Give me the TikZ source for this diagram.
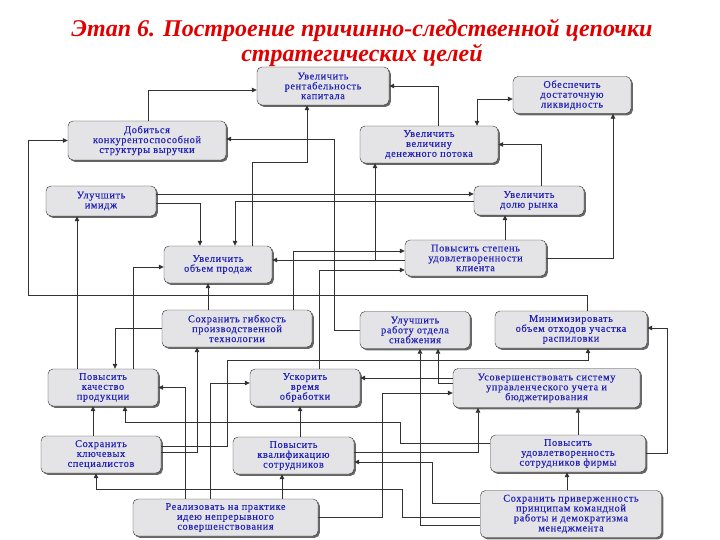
\documentclass[tikz,border=0pt]{standalone}
\usepackage{fontspec}
\setmainfont{Liberation Serif}
\usepackage{xcolor}
\definecolor{etap_red}{RGB}{225, 0, 0}
\definecolor{etap_blue}{RGB}{35, 35, 185}
\definecolor{etap_fill}{RGB}{228, 228, 230}
\definecolor{etap_line}{RGB}{50, 50, 50}
\usepackage{tikz}
\usetikzlibrary{arrows.meta, shadows}

\begin{document}
\begin{tikzpicture}[x=1pt, y=-1pt, >={Triangle[length=5pt,width=4.5pt]},
            box/.style={draw=etap_line, fill=etap_fill, rounded corners=5pt, align=center,
                        text=etap_blue, inner sep=1pt,
                        font=\fontsize{10.3}{9.9}\selectfont\addfontfeatures{LetterSpace=6,FakeBold=0.4},
                        drop shadow={shadow xshift=1.8pt, shadow yshift=-1.8pt,
                                     fill=black, opacity=0.6}},
            link/.style={->, draw=etap_line, line width=0.8pt}]
            \fill[white] (0,0) rectangle (720,540);
            \useasboundingbox (0,0) rectangle (720,540);
            \node[font=\fontsize{24}{25}\selectfont\bfseries\itshape, text=etap_red, align=center]
              (title) at (362,43) {Этап 6. Построение причинно-следственной цепочки\\стратегических целей};
            \node[box, minimum width=132pt, minimum height=38pt] (rent) at (323,86)
              {Увеличить\\рентабельность\\капитала};
            \node[box, minimum width=118pt, minimum height=37pt] (likv) at (572,95)
              {Обеспечить\\достаточную\\ликвидность};
            \node[box, minimum width=158pt, minimum height=39pt] (konk) at (147,140.5)
              {Добиться\\конкурентоспособной\\структуры выручки};
            \node[box, minimum width=138pt, minimum height=37pt] (dpot) at (429,144.5)
              {Увеличить\\величину\\денежного потока};
            \node[box, minimum width=110pt, minimum height=30pt] (imid) at (101,201)
              {Улучшить\\имидж};
            \node[box, minimum width=110pt, minimum height=29pt] (dolya) at (529,200.5)
              {Увеличить\\долю рынка};
            \node[box, minimum width=108pt, minimum height=37pt] (obem) at (218,264.5)
              {Увеличить\\объем продаж};
            \node[box, minimum width=141pt, minimum height=36pt] (klient) at (475.5,258)
              {Повысить степень\\удовлетворенности\\клиента};
            \node[box, minimum width=150pt, minimum height=37pt] (gibk) at (237,328.5)
              {Сохранить гибкость\\производственной\\технологии};
            \node[box, minimum width=110pt, minimum height=37pt] (snab) at (415,330)
              {Улучшить\\работу отдела\\снабжения};
            \node[box, minimum width=152pt, minimum height=37pt] (othod) at (571,329.5)
              {Минимизировать\\объем отходов участка\\распиловки};
            \node[box, minimum width=110pt, minimum height=37pt] (kach) at (103,387.5)
              {Повысить\\качество\\продукции};
            \node[box, minimum width=110pt, minimum height=37pt] (uskor) at (305,387.5)
              {Ускорить\\время\\обработки};
            \node[box, minimum width=187pt, minimum height=39pt] (uchet) at (546.5,388)
              {Усовершенствовать систему\\управленческого учета и\\бюджетирования};
            \node[box, minimum width=120pt, minimum height=37pt] (spec) at (101,454.5)
              {Сохранить\\ключевых\\специалистов};
            \node[box, minimum width=121pt, minimum height=37pt] (kval) at (293.5,455.5)
              {Повысить\\квалификацию\\сотрудников};
            \node[box, minimum width=155pt, minimum height=37pt] (sotr) at (568,453.5)
              {Повысить\\удовлетворенность\\сотрудников фирмы};
            \node[box, minimum width=185pt, minimum height=37pt] (real) at (225.5,517.5)
              {Реализовать на практике\\идею непрерывного\\совершенствования};
            \node[box, minimum width=181pt, minimum height=47pt] (prin) at (571,514)
              {Сохранить приверженность\\принципам командной\\работы и демократизма\\менеджмента};
            \draw[link] (konk.north -| 148,0) |- (rent.west |- 0,90);
            \draw[link] (obem.north -| 252,0) |- (307,162) -- (rent.south -| 307,0);
            \draw[link] (dpot.north -| 438,0) |- (rent.east);
            \draw[link, <->] (dpot.north -| 477,0) |- (likv.west |- 0,99);
            \draw[link] (dolya.north -| 541,0) |- (dpot.east);
            \draw[link] (klient.east) -| (likv.south -| 613,0);
            \draw[link] (klient.north -| 505,0) -- (dolya.south -| 505,0);
            \draw[link] (othod.north -| 587,0) |- (28,295) |- (konk.west);
            \draw[link] (snab.west) -| (334,139) -- (konk.east |- 0,139);
            \draw[link] (imid.east |- 0,194) -- (dolya.west |- 0,194);
            \draw[link] (imid.east |- 0,203) -| (obem.north -| 200,0);
            \draw[link] (dolya.west |- 0,201) -| (obem.north -| 235,0);
            \draw[link] (klient.west |- 0,260) -- (obem.east |- 0,260);
            \draw[link] (klient.west |- 0,260) -| (dpot.south -| 375,0);
            \draw[link] (gibk.north -| 293,0) |- (klient.west |- 0,251);
            \draw[link] (uskor.north -| 319,0) |- (klient.west |- 0,270);
            \draw[link] (gibk.north -| 208,0) -- (obem.south -| 208,0);
            \draw[link] (kach.north -| 77,0) -- (imid.south -| 77,0);
            \draw[link] (kach.north -| 133,0) |- (obem.west |- 0,267);
            \draw[link] (gibk.west) -| (kach.north -| 115,0);
            \draw[link] (real.north -| 185,0) |- (kach.east);
            \draw[link] (real.north -| 210,0) |- (uskor.west |- 0,383);
            \draw[link] (spec.east |- 0,452) -| (gibk.south -| 197,0);
            \draw[link] (spec.east |- 0,446) -| (227,360) -| (othod.south -| 588,0);
            \draw[link] (spec.north -| 93,0) -- (kach.south -| 93,0);
            \draw[link] (sotr.west |- 0,443) -| (400,422) -| (kach.south -| 125,0);
            \draw[link] (kval.north -| 300,0) -- (uskor.south -| 300,0);
            \draw[link] (real.north -| 282,0) -- (kval.south -| 282,0);
            \draw[link] (kval.east |- 0,452) -| (uchet.south -| 478,0);
            \draw[link] (prin.west |- 0,503) -| (432,462) -- (kval.east |- 0,462);
            \draw[link] (prin.west |- 0,517) -| (402,489) -| (spec.south -| 96,0);
            \draw[link] (real.east) -| (382,393) -- (uchet.west |- 0,393);
            \draw[link] (prin.west |- 0,525) -| (snab.south -| 420,0);
            \draw[link] (uchet.west |- 0,378) -- (uskor.east |- 0,378);
            \draw[link] (uchet.west |- 0,383) -| (snab.south -| 438,0);
            \draw[link] (sotr.north -| 578,0) -- (uchet.south -| 578,0);
            \draw[link] (sotr.east) -| (667,328) -- (othod.east |- 0,328);
            \draw[link] (prin.north -| 567,0) -- (sotr.south -| 567,0);
          \end{tikzpicture}
\end{document}
